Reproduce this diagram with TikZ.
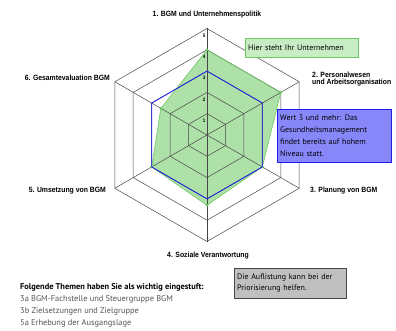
\documentclass[tikz,border=0pt]{standalone}
\usepackage{fontspec}
\setmainfont{PT Sans}
\newfontfamily\axisfont[FakeStretch=0.9]{Liberation Sans}
\usetikzlibrary{positioning}
\definecolor{gridline}{RGB}{70,70,70}
\definecolor{areaFill}{RGB}{174,225,168}
\definecolor{areaLine}{RGB}{110,200,100}
\definecolor{levelLine}{RGB}{30,30,235}
\definecolor{noteGreen}{RGB}{200,236,195}
\definecolor{noteBlue}{RGB}{135,135,250}
\definecolor{noteGray}{RGB}{192,192,192}
\definecolor{listText}{RGB}{85,85,85}

\begin{document}
\begin{tikzpicture}[x=1pt,y=1pt,
  axislabel/.style={font=\axisfont\bfseries\fontsize{7.6}{7.8}\selectfont,inner sep=0pt},
  ticklabel/.style={font=\axisfont\bfseries\fontsize{5}{5}\selectfont,inner sep=0pt},
  note/.style={draw,font=\fontsize{8}{12}\selectfont,align=left,inner xsep=3pt,inner ysep=0pt,anchor=north west},
  listline/.style={font=\fontsize{8.4}{9}\selectfont,inner sep=0pt,anchor=west,text=listText}]
  \useasboundingbox (0,0) rectangle (396,-331);
  \coordinate (c) at (207,-135);
  \begin{scope}[shift={(c)}]
    % values of the company
    \foreach \v [count=\i] in {4,4,3,3.3,3,2.5}
      \coordinate (g\i) at ({150-\i*60}:{\v*21.3});
    \fill[areaFill] (g1) -- (g2) -- (g3) -- (g4) -- (g5) -- (g6) -- cycle;
    % grid
    \foreach \r in {1,...,5}
      \draw[gridline,line width=0.5pt] (90:{\r*21.3}) -- (30:{\r*21.3}) -- (-30:{\r*21.3})
        -- (-90:{\r*21.3}) -- (-150:{\r*21.3}) -- (150:{\r*21.3}) -- cycle;
    \foreach \a [count=\i] in {90,30,-30,-90,-150,150} {
      \coordinate (e\i) at (\a:106.5);
      \draw[gridline,line width=0.5pt] (0,0) -- (e\i);
    }
    \foreach \r in {1,...,5}
      \node[ticklabel] (t\r) at (-3,{\r*21.3-7}) {\r};
    \draw[areaLine,line width=0.6pt] (g1) -- (g2) -- (g3) -- (g4) -- (g5) -- (g6) -- cycle;
    \foreach \i in {1,...,6}
      \fill[areaLine] (g\i) circle (1.5);
    % level 3
    \draw[levelLine,line width=0.8pt] (90:63.9) -- (30:63.9) -- (-30:63.9)
      -- (-90:63.9) -- (-150:63.9) -- (150:63.9) -- cycle;
  \end{scope}

  \node[axislabel] (ax1) at (207,-15) {1. BGM und Unternehmenspolitik};
  \node[axislabel,anchor=west,align=left] (ax2) at (312,-79) {2. Personalwesen\\und Arbeitsorganisation};
  \node[axislabel,anchor=west] (ax3) at (310,-191) {3. Planung von BGM};
  \node[axislabel] (ax4) at (208,-256) {4. Soziale Verantwortung};
  \node[axislabel,anchor=east] (ax5) at (106,-191) {5. Umsetzung von BGM};
  \node[axislabel,anchor=east] (ax6) at (110,-78) {6. Gesamtevaluation BGM};

  \node[note,draw=areaLine,fill=noteGreen,text width=107,minimum height=19] (company) at (245,-38) {Hier steht Ihr Unternehmen};
  \node[note,draw=levelLine,fill=noteBlue,text width=108,minimum height=53] (level) at (277,-109)
    {Wert 3 und mehr: Das\\Gesundheitsmanagement\\findet bereits auf hohem\\Niveau statt.};
  \node[note,draw=gridline,fill=noteGray,text width=106,minimum height=30,font=\fontsize{8}{11}\selectfont] (hint) at (234,-268)
    {Die Auflistung kann bei der\\Priorisierung helfen.};

  \node[listline,text=black,font=\bfseries\fontsize{8.4}{9}\selectfont] (list0) at (20,-287) {Folgende Themen haben Sie als wichtig eingestuft:};
  \foreach \t [count=\i] in {3a BGM-Fachstelle und Steuergruppe BGM,3b Zielsetzungen und Zielgruppe,5a Erhebung der Ausgangslage}
    \node[listline] (list\i) at (20,{-287-\i*12}) {\t};
\end{tikzpicture}
\end{document}
